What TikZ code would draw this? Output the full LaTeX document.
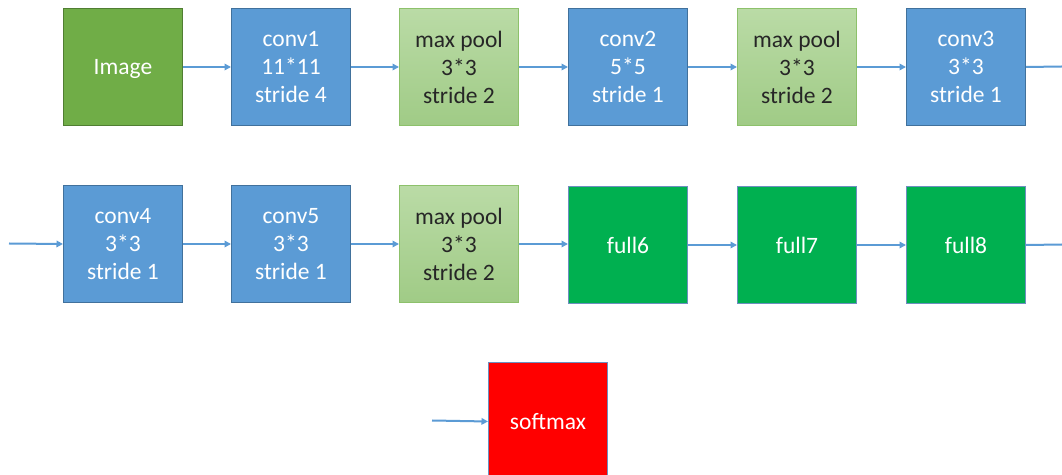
\documentclass[tikz,border=0pt]{standalone}
\usepackage{fontspec}
\setmainfont{Carlito}
\usetikzlibrary{arrows.meta}
\definecolor{cblue}{HTML}{5B9BD5}
\definecolor{cblueb}{HTML}{41719C}
\definecolor{cimg}{HTML}{70AD47}
\definecolor{cimgb}{HTML}{507E32}
\definecolor{cpoolt}{HTML}{BADBA6}
\definecolor{cpoolb}{HTML}{A0CB86}
\definecolor{cpoolbd}{HTML}{8DC16B}
\definecolor{cfull}{HTML}{00B050}
\definecolor{cfullb}{HTML}{6D8FBF}
\definecolor{cred}{HTML}{FF0000}
\definecolor{carrow}{HTML}{5B9BD5}
\begin{document}
\begin{tikzpicture}[x=1bp,y=-1bp,
  box/.style={minimum width=119bp,minimum height=117bp,inner sep=0pt,line width=1bp,align=center,
    font=\fontsize{23.5bp}{28bp}\selectfont,anchor=north west,text depth=0pt},
  convbox/.style={box,fill=cblue,draw=cblueb,text=white},
  imgbox/.style={box,fill=cimg,draw=cimgb,text=white},
  poolbox/.style={box,top color=cpoolt,bottom color=cpoolb,draw=cpoolbd,text=black!85},
  fullbox/.style={box,fill=cfull,draw=cfullb,text=white},
  redbox/.style={box,fill=cred,draw=cfullb,text=white},
  conn/.style={draw=carrow,line width=2bp,-{Triangle[length=6.5bp,width=6.5bp]}},
  connend/.style={draw=carrow,line width=2bp}]
\clip (0,0) rectangle (1062,475);
\fill[white] (0,0) rectangle (1062,475);
% row 1
\node[imgbox] (img) at (63,8) {Image};
\node[convbox] (c1) at (231,8) {conv1\\11*11\\stride 4};
\node[poolbox] (p1) at (399,8) {max pool\\3*3\\stride 2};
\node[convbox] (c2) at (568,8) {conv2\\5*5\\stride 1};
\node[poolbox] (p2) at (737,8) {max pool\\3*3\\stride 2};
\node[convbox] (c3) at (906,8) {conv3\\3*3\\stride 1};
% row 2
\node[convbox] (c4) at (63,185) {conv4\\3*3\\stride 1};
\node[convbox] (c5) at (231,185) {conv5\\3*3\\stride 1};
\node[poolbox] (p3) at (399,185) {max pool\\3*3\\stride 2};
\node[fullbox] (f6) at (568,186) {full6};
\node[fullbox] (f7) at (737,186) {full7};
\node[fullbox] (f8) at (906,186) {full8};
% row 3
\node[redbox,minimum height=118bp] (sm) at (488,362) {softmax};
% free ends
\coordinate (r1out) at (1062,66.5);
\coordinate (r2in) at (9,243.5);
\coordinate (r2out) at (1062,244.5);
\coordinate (r3in) at (432,420.5);
% connectors
\draw[conn] (img) -- (c1);
\draw[conn] (c1) -- (p1);
\draw[conn] (p1) -- (c2);
\draw[conn] (c2) -- (p2);
\draw[conn] (p2) -- (c3);
\draw[connend] (c3.east) -- (r1out);
\draw[conn] (r2in) -- (c4.west);
\draw[conn] (c4) -- (c5);
\draw[conn] (c5) -- (p3);
\draw[conn] (p3.east) -- (p3.east -| f6.west);
\draw[conn] (f6) -- (f7);
\draw[conn] (f7) -- (f8);
\draw[connend] (f8.east) -- (r2out);
\draw[conn] (r3in) -- (sm.west);
\end{tikzpicture}
\end{document}
